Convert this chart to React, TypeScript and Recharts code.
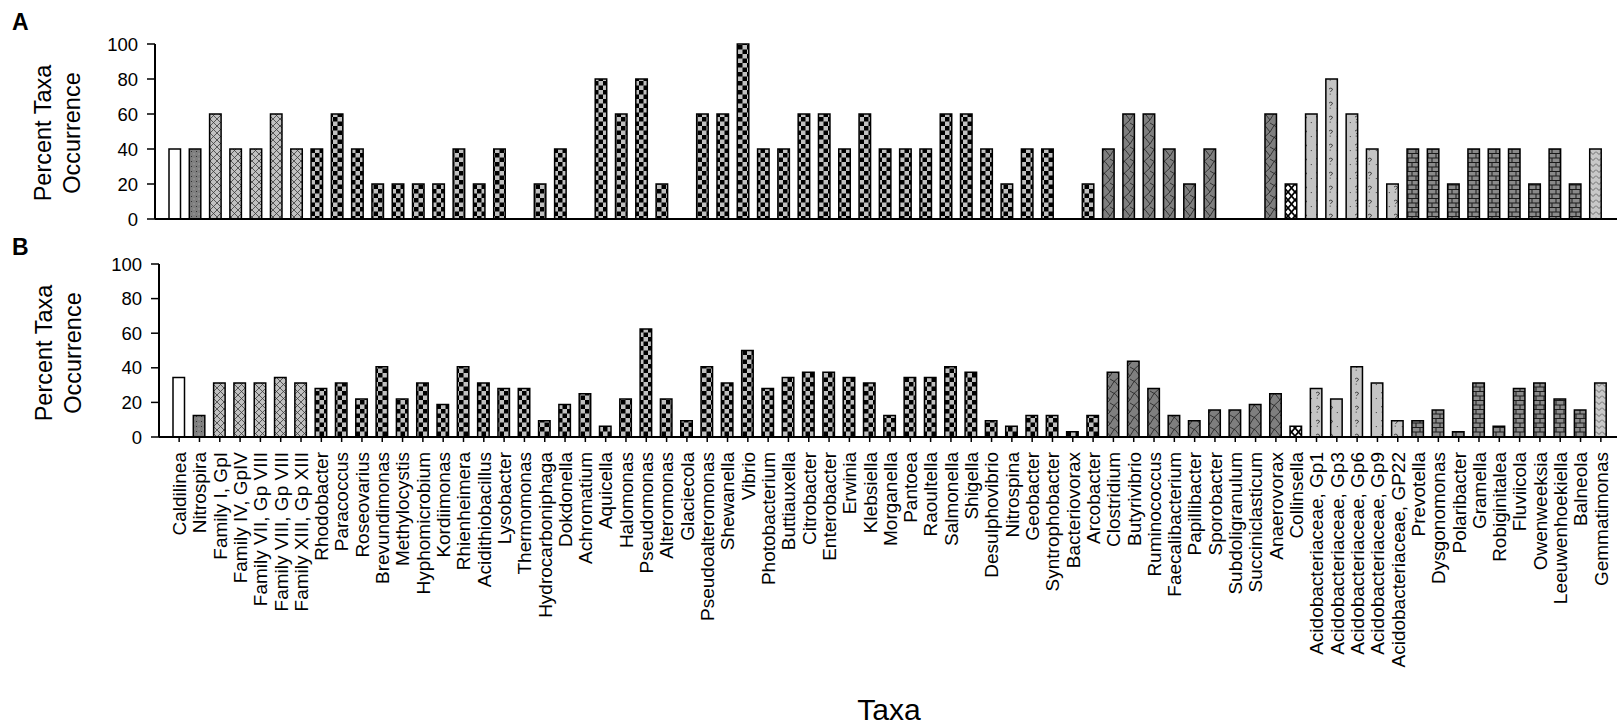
import React from 'react';
import { BarChart, Bar, XAxis, YAxis, Cell } from 'recharts';

const FONT = '"Liberation Sans", Arial, Helvetica, sans-serif';

// Genera / families along the category axis (shared by both panels)
const taxa = [
  'Caldilinea', 'Nitrospira', 'Family I, GpI', 'Family IV, GpIV', 'Family VII, Gp VIII',
  'Family VIII, Gp VIII', 'Family XIII, Gp XIII', 'Rhodobacter', 'Paracoccus', 'Roseovarius',
  'Brevundimonas', 'Methylocystis', 'Hyphomicrobium', 'Kordiimonas', 'Rhienheimera',
  'Acidithiobacillus', 'Lysobacter', 'Thermomonas', 'Hydrocarboniphaga', 'Dokdonella',
  'Achromatium', 'Aquicella', 'Halomonas', 'Pseudomonas', 'Alteromonas',
  'Glaciecola', 'Pseudoalteromonas', 'Shewanella', 'Vibrio', 'Photobacterium',
  'Buttiauxella', 'Citrobacter', 'Enterobacter', 'Erwinia', 'Klebsiella',
  'Morganella', 'Pantoea', 'Raoultella', 'Salmonella', 'Shigella',
  'Desulphovibrio', 'Nitrospina', 'Geobacter', 'Syntrophobacter', 'Bacteriovorax',
  'Arcobacter', 'Clostridium', 'Butyrivibrio', 'Ruminococcus', 'Faecalibacterium',
  'Papillibacter', 'Sporobacter', 'Subdoligranulum', 'Succiniclasticum', 'Anaerovorax',
  'Collinsella', 'Acidobacteriaceae, Gp1', 'Acidobacteriaceae, Gp3', 'Acidobacteriaceae, Gp6', 'Acidobacteriaceae, Gp9',
  'Acidobacteriaceae, GP22', 'Prevotella', 'Dysgonomonas', 'Polaribacter', 'Gramella',
  'Robiginitalea', 'Fluviicola', 'Owenweeksia', 'Leeuwenhoekiella', 'Balneola',
  'Gemmatimonas',
];

// Panel A: percent occurrence
const occurrenceA = [
  40, 40, 60, 40, 40, 60, 40, 40, 60, 40,
  20, 20, 20, 20, 40, 20, 40, 0, 20, 40,
  0, 80, 60, 80, 20, 0, 60, 60, 100, 40,
  40, 60, 60, 40, 60, 40, 40, 40, 60, 60,
  40, 20, 40, 40, 0, 20, 40, 60, 60, 40,
  20, 40, 0, 0, 60, 20, 60, 80, 60, 40,
  20, 40, 40, 20, 40, 40, 40, 20, 40, 20,
  40,
];

// Panel B: percent occurrence
const occurrenceB = [
  34.4, 12.5, 31.25, 31.25, 31.25, 34.4, 31.25, 28.1, 31.25, 21.9,
  40.6, 21.9, 31.25, 18.75, 40.6, 31.25, 28.1, 28.1, 9.4, 18.75,
  25, 6.25, 21.9, 62.5, 21.9, 9.4, 40.6, 31.25, 50, 28.1,
  34.4, 37.5, 37.5, 34.4, 31.25, 12.5, 34.4, 34.4, 40.6, 37.5,
  9.4, 6.25, 12.5, 12.5, 3.1, 12.5, 37.5, 43.75, 28.1, 12.5,
  9.4, 15.6, 15.6, 18.75, 25, 6.25, 28.1, 21.9, 40.6, 31.25,
  9.4, 9.4, 15.6, 3.1, 31.25, 6.25, 28.1, 31.25, 21.9, 15.6,
  31.25,
];

const yTicks = [0, 20, 40, 60, 80, 100];

// Consecutive runs of taxa that share one bar pattern
const taxonGroups: [string, number][] = [
  ['Chloroflexi', 1],
  ['Nitrospirae', 1],
  ['Cyanobacteria', 5],
  ['Proteobacteria', 39],
  ['Firmicutes', 9],
  ['Actinobacteria', 1],
  ['Acidobacteria', 5],
  ['Bacteroidetes', 9],
  ['Gemmatimonadetes', 1],
];

const groupFill: Record<string, string> = {
  Chloroflexi: '#ffffff',
  Nitrospirae: 'url(#pDots)',
  Cyanobacteria: 'url(#pCross)',
  Proteobacteria: 'url(#pChecker)',
  Firmicutes: 'url(#pShingle)',
  Actinobacteria: 'url(#pTrellis)',
  Acidobacteria: 'url(#pDivot)',
  Bacteroidetes: 'url(#pBrick)',
  Gemmatimonadetes: 'url(#pChevron)',
};

const barFills: string[] = taxonGroups.flatMap(([g, n]) => Array(n).fill(groupFill[g]));

const rowsA = taxa.map((taxon, i) => ({ taxon, value: occurrenceA[i] }));
const rowsB = taxa.map((taxon, i) => ({ taxon, value: occurrenceB[i] }));

const PatternDefs = () => (
  <svg width={0} height={0} style={{ position: 'absolute' }}>
    <defs>
      <pattern id="pDots" width="5" height="5" patternUnits="userSpaceOnUse">
        <rect width="5" height="5" fill="#7f7f7f" />
        <rect x="1" y="1" width="1" height="1" fill="#303030" />
        <rect x="3.5" y="3.5" width="1" height="1" fill="#b5b5b5" />
      </pattern>
      <pattern id="pCross" width="7" height="7" patternUnits="userSpaceOnUse">
        <rect width="7" height="7" fill="#c0c0c0" />
        <path d="M0,0L7,7M7,0L0,7" stroke="#3a3a3a" strokeWidth="0.8" />
      </pattern>
      <pattern id="pChecker" width="9" height="9" patternUnits="userSpaceOnUse">
        <rect width="9" height="9" fill="#c0c0c0" />
        <rect width="4.5" height="4.5" fill="#000" />
        <rect x="4.5" y="4.5" width="4.5" height="4.5" fill="#000" />
      </pattern>
      <pattern id="pShingle" width="10" height="12" patternUnits="userSpaceOnUse">
        <rect width="10" height="12" fill="#7f7f7f" />
        <path d="M0,12 Q3,5 10,0 M0,3 Q6,5 10,12" stroke="#1e1e1e" strokeWidth="0.8" fill="none" />
      </pattern>
      <pattern id="pTrellis" width="7" height="8" patternUnits="userSpaceOnUse">
        <rect width="7" height="8" fill="#ffffff" />
        <path d="M0,0L7,8M7,0L0,8" stroke="#000" strokeWidth="1.8" />
      </pattern>
      <pattern id="pDivot" width="13" height="14" patternUnits="userSpaceOnUse">
        <rect width="13" height="14" fill="#c4c4c4" />
        <path d="M3,5 q2,-2 3.5,0 q0,1.6 -2.2,2.6 M4.2,9.6 v1.1 M11.3,10 v1.1" stroke="#333" strokeWidth="0.9" fill="none" />
      </pattern>
      <pattern id="pBrick" width="8" height="9" patternUnits="userSpaceOnUse">
        <rect width="8" height="9" fill="#8a8a8a" />
        <path d="M0,0.5H8M0,5H8M4,0.5V5M0,5V9M8,5V9" stroke="#1a1a1a" strokeWidth="1" />
      </pattern>
      <pattern id="pChevron" width="6" height="6" patternUnits="userSpaceOnUse">
        <rect width="6" height="6" fill="#c8c8c8" />
        <path d="M0,1.5L3,4.5L6,1.5" stroke="#555" strokeWidth="0.8" fill="none" />
      </pattern>
    </defs>
  </svg>
);

const TaxonTick = (props: any) => {
  const { x, y, payload } = props;
  return (
    <text
      x={x}
      y={y}
      transform={`rotate(-90 ${x} ${y})`}
      textAnchor="end"
      dy="0.36em"
      fontSize={19}
      fontFamily={FONT}
      fill="#000"
    >
      {payload.value}
    </text>
  );
};

const yTickStyle = { fontSize: 18.5, fill: '#000', fontFamily: FONT };

const Panel = ({
  rows,
  height,
  yAxisWidth,
  xAxisHeight,
  padRight,
  showLabels,
}: {
  rows: { taxon: string; value: number }[];
  height: number;
  yAxisWidth: number;
  xAxisHeight: number;
  padRight: number;
  showLabels: boolean;
}) => (
  <BarChart
    width={1617}
    height={height}
    data={rows}
    margin={{ top: 44, right: 0, bottom: 0, left: 0 }}
    barCategoryGap={0}
  >
    <XAxis
      dataKey="taxon"
      interval={0}
      height={xAxisHeight}
      padding={{ left: 10, right: padRight }}
      axisLine={{ stroke: '#000', strokeWidth: 2 }}
      tickLine={{ stroke: '#000', strokeWidth: 1.5 }}
      tickSize={5}
      tickMargin={10}
      tick={showLabels ? <TaxonTick /> : false}
    />
    <YAxis
      width={yAxisWidth}
      domain={[0, 100]}
      ticks={yTicks}
      interval={0}
      axisLine={{ stroke: '#000', strokeWidth: 2 }}
      tickLine={{ stroke: '#000', strokeWidth: 1.5 }}
      tickSize={8}
      tickMargin={9}
      tick={yTickStyle}
    />
    <Bar dataKey="value" barSize={11.5} stroke="#000" strokeWidth={1.5} isAnimationActive={false}>
      {rows.map((r, i) => (
        <Cell key={r.taxon} fill={barFills[i]} />
      ))}
    </Bar>
  </BarChart>
);

const textStyle = { fontFamily: FONT, fill: '#000' };

export default function App() {
  return (
    <div style={{ position: 'absolute', left: 0, top: 0, width: 1617, height: 725, background: '#fff', overflow: 'hidden' }}>
      <PatternDefs />
      <div style={{ position: 'absolute', left: 0, top: 0 }}>
        <Panel rows={rowsA} height={229} yAxisWidth={155} xAxisHeight={10} padRight={11} showLabels={false} />
      </div>
      <div style={{ position: 'absolute', left: 0, top: 220 }}>
        <Panel rows={rowsB} height={457} yAxisWidth={159} xAxisHeight={240} padRight={6} showLabels={true} />
      </div>
      <svg width={1617} height={725} style={{ position: 'absolute', left: 0, top: 0, pointerEvents: 'none' }}>
        <text x={12} y={30} fontSize={23} fontWeight="bold" style={textStyle}>A</text>
        <text x={12} y={255} fontSize={23} fontWeight="bold" style={textStyle}>B</text>

        <text x={50.5} y={133} fontSize={23.5} textAnchor="middle" transform="rotate(-90 50.5 133)" style={textStyle}>Percent Taxa</text>
        <text x={80} y={133} fontSize={23.5} textAnchor="middle" transform="rotate(-90 80 133)" style={textStyle}>Occurrence</text>

        <text x={51.5} y={353} fontSize={23.5} textAnchor="middle" transform="rotate(-90 51.5 353)" style={textStyle}>Percent Taxa</text>
        <text x={80.5} y={353} fontSize={23.5} textAnchor="middle" transform="rotate(-90 80.5 353)" style={textStyle}>Occurrence</text>

        <text x={889} y={720} fontSize={30} textAnchor="middle" style={textStyle}>Taxa</text>
      </svg>
    </div>
  );
}
